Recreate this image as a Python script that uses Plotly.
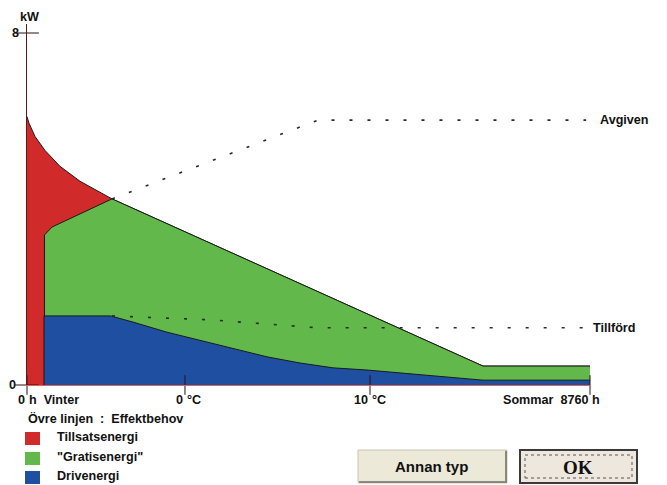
import plotly.graph_objects as go

# ---------------- data (hours of the year / kW) ----------------
top_h = [0, 31, 124, 280, 513, 825, 1323, 7095, 8760]
top_kw = [6.10, 5.95, 5.65, 5.33, 4.97, 4.63, 4.23, 0.43, 0.43]

gratis_h = [272, 272, 389, 1323, 7095, 8760]
gratis_kw = [0.0, 3.41, 3.59, 4.23, 0.43, 0.43]

drive_h = [265, 265, 1300, 1649, 2178, 2692, 3205, 3734, 4248, 4761, 5290, 5804, 7095, 8760]
drive_kw = [0.0, 1.57, 1.57, 1.43, 1.20, 1.02, 0.84, 0.64, 0.50, 0.39, 0.34, 0.27, 0.11, 0.11]

avgiven_h = [1323, 4528, 8700]
avgiven_kw = [4.23, 6.02, 6.02]

tillford_h = [1323, 2863, 4528, 8700]
tillford_kw = [1.57, 1.48, 1.30, 1.30]

xtick_h = [0, 2458, 5337, 8760]
xtick_num = ["0", "0", "10", "Sommar\u00a0\u00a08760"]
xtick_unit = ["h\u00a0\u00a0Vinter", "°C", "°C", "h"]
ytick_kw = [0, 8]
ytick_text = ["0", "8"]

legend_names = ["Tillsatsenergi", "\"Gratisenergi\"", "Drivenergi"]
legend_colors = ["#D12A2A", "#62B84A", "#1F4FA0"]
RED, GREEN, BLUE = legend_colors

# ---------------- geometry helpers (pixels -> paper) ----------------
W, H = 667, 485
L, R, T, B = 27, 590, 24, 385
def px(x):
    return (x - L) / (R - L)
def py(y):
    return (B - y) / (B - T)

FONT = "Liberation Sans, Arial, sans-serif"

fig = go.Figure()

fig.add_trace(go.Scatter(x=top_h, y=top_kw, mode="lines", fill="tozeroy",
                         fillcolor=RED, line=dict(color="#1a1a1a", width=1),
                         hoverinfo="skip"))
fig.add_trace(go.Scatter(x=gratis_h, y=gratis_kw, mode="lines", fill="tozeroy",
                         fillcolor=GREEN, line=dict(color="#1a1a1a", width=1),
                         hoverinfo="skip"))
fig.add_trace(go.Scatter(x=drive_h, y=drive_kw, mode="lines", fill="tozeroy",
                         fillcolor=BLUE, line=dict(color="#1a1a1a", width=1),
                         hoverinfo="skip"))
fig.add_trace(go.Scatter(x=avgiven_h, y=avgiven_kw, mode="lines",
                         line=dict(color="#2a2a2a", width=1.6, dash="3px,15px"),
                         hoverinfo="skip"))
fig.add_trace(go.Scatter(x=tillford_h, y=tillford_kw, mode="lines",
                         line=dict(color="#2a2a2a", width=1.6, dash="3px,15px"),
                         hoverinfo="skip"))
# x tick marks crossing the axis
fig.add_trace(go.Scatter(x=xtick_h, y=[0] * len(xtick_h), mode="markers",
                         marker=dict(symbol="line-ns", size=14,
                                     line=dict(color="#2a1010", width=1)),
                         cliponaxis=False, hoverinfo="skip"))
# y tick marks crossing the axis
fig.add_trace(go.Scatter(x=[0] * len(ytick_kw), y=ytick_kw, mode="markers",
                         marker=dict(symbol="line-ew", size=17,
                                     line=dict(color="#2a1010", width=1)),
                         cliponaxis=False, hoverinfo="skip"))

ann = []
lab = dict(family=FONT, size=12.6, color="#111111")
for h, n, u in zip(xtick_h, xtick_num, xtick_unit):
    ann.append(dict(x=h, y=0, xref="x", yref="y", text="<b>%s</b>" % n,
                    xanchor="right", yanchor="middle", xshift=0, yshift=-15,
                    showarrow=False, font=lab))
    ann.append(dict(x=h, y=0, xref="x", yref="y", text="<b>%s</b>" % u,
                    xanchor="left", yanchor="middle", xshift=0, yshift=-15,
                    showarrow=False, font=lab))
for v, t in zip(ytick_kw, ytick_text):
    ann.append(dict(x=0, y=v, xref="x", yref="y", text="<b>%s</b>" % t,
                    xanchor="right", yanchor="middle", xshift=-6 if v else -9,
                    showarrow=False, font=lab))
ann.append(dict(x=0, y=8, xref="x", yref="y", text="<b>kW</b>",
                xanchor="center", yanchor="middle", xshift=2, yshift=16,
                showarrow=False, font=lab))
ann.append(dict(x=8760, y=avgiven_kw[-1], xref="x", yref="y", text="<b>Avgiven</b>",
                xanchor="left", yanchor="middle", xshift=8,
                showarrow=False, font=lab))
ann.append(dict(x=8760, y=tillford_kw[-1], xref="x", yref="y", text="<b>Tillförd</b>",
                xanchor="left", yanchor="middle", xshift=1,
                showarrow=False, font=lab))
ann.append(dict(x=px(26), y=py(418), xref="paper", yref="paper",
                text="<b>Övre linjen\u00a0\u00a0:\u00a0\u00a0Effektbehov</b>",
                xanchor="left", yanchor="middle", showarrow=False, font=lab))

shapes = []
box_tops = [432, 452, 471]
label_y = [437, 457, 476]
for name, col, bt, ly in zip(legend_names, legend_colors, box_tops, label_y):
    shapes.append(dict(type="rect", xref="paper", yref="paper",
                       x0=px(25), x1=px(40), y0=py(bt + 13), y1=py(bt),
                       fillcolor=col, line=dict(width=0)))
    ann.append(dict(x=px(55), y=py(ly), xref="paper", yref="paper",
                    text="<b>%s</b>" % name, xanchor="left", yanchor="middle",
                    showarrow=False, font=lab))

# buttons
shapes.append(dict(type="rect", xref="paper", yref="paper",
                   x0=px(358), x1=px(507), y0=py(483), y1=py(450),
                   fillcolor="#ECE9D8", line=dict(color="#C8C4B4", width=1)))
shapes.append(dict(type="path", xref="paper", yref="paper",
                   path="M %f %f L %f %f L %f %f" % (px(359), py(482), px(506), py(482), px(506), py(451)),
                   line=dict(color="#8a877c", width=2)))
shapes.append(dict(type="rect", xref="paper", yref="paper",
                   x0=px(520), x1=px(637), y0=py(483), y1=py(450),
                   fillcolor="#EEE7DD", line=dict(color="#3a3a3a", width=2)))
shapes.append(dict(type="rect", xref="paper", yref="paper",
                   x0=px(525), x1=px(632), y0=py(478), y1=py(455),
                   fillcolor="rgba(0,0,0,0)", line=dict(color="#555555", width=1, dash="dot")))
ann.append(dict(x=px(432), y=py(466), xref="paper", yref="paper",
                text="<b>Annan typ</b>", xanchor="center", yanchor="middle",
                showarrow=False, font=dict(family=FONT, size=15, color="#111111")))
ann.append(dict(x=px(578), y=py(467), xref="paper", yref="paper",
                text="<b>OK</b>", xanchor="center", yanchor="middle",
                showarrow=False,
                font=dict(family="Liberation Serif, Times New Roman, serif", size=19, color="#111111")))

fig.update_layout(
    width=W, height=H,
    margin=dict(l=L, r=W - R, t=T, b=H - B, pad=0),
    paper_bgcolor="white", plot_bgcolor="white",
    showlegend=False,
    annotations=ann, shapes=shapes,
    xaxis=dict(range=[0, 8760], showgrid=False, zeroline=False, showticklabels=False,
               ticks="", showline=True, linecolor="#E06060", linewidth=1, fixedrange=True),
    yaxis=dict(range=[0, (B - T) / 44.0], showgrid=False, zeroline=False, showticklabels=False,
               ticks="", showline=True, linecolor="#5A1A1A", linewidth=1, fixedrange=True),
)

fig.write_html("out.html", config={"displayModeBar": False},
               post_script="document.body.style.margin='0';document.body.style.overflow='hidden';")
